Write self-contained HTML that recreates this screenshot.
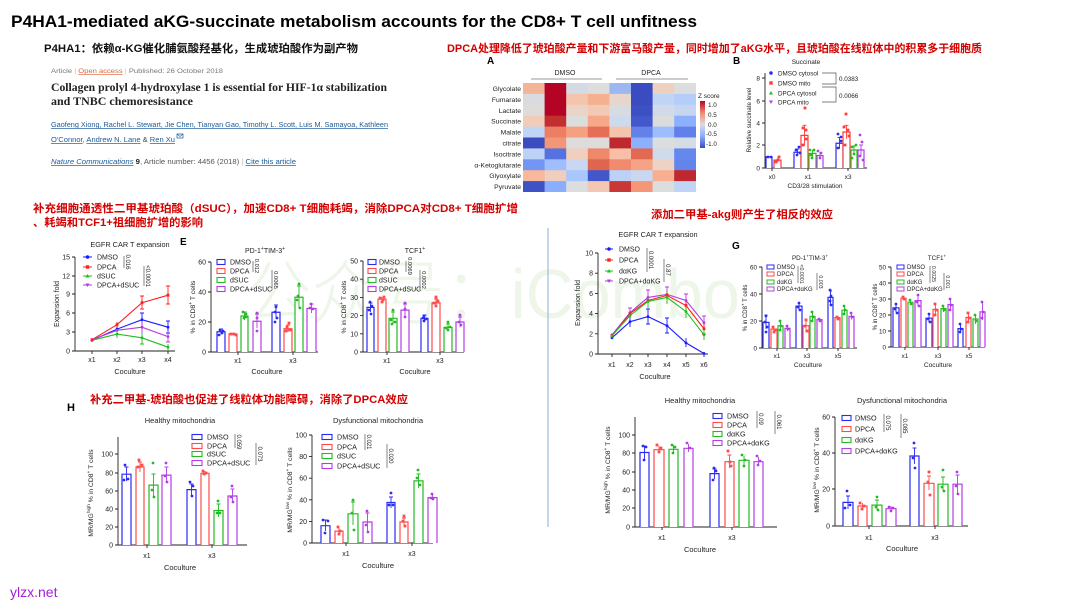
<!DOCTYPE html>
<html><head><meta charset="utf-8"><style>
html,body{margin:0;padding:0;background:#fff;}
svg{display:block;}
text{font-family:"Liberation Sans",Arial,sans-serif;fill:#222;}
.cn{font-family:"Liberation Sans","Noto Sans CJK SC",sans-serif;font-weight:bold;}
.red{fill:#d40000;}
.t7{font-size:7px;}
.t6{font-size:6px;}
.ax{fill:none;stroke:#222;stroke-width:0.9;}
.br{fill:none;stroke:#555;stroke-width:0.7;}
.bar{fill:#fff;stroke-width:1.2;}
.err{fill:none;stroke-width:0.9;}
.dot{fill:none;stroke-width:2.8;stroke-linecap:round;}
.sq{fill:none;stroke-width:2.8;stroke-linecap:square;}
</style></head><body>
<svg width="1080" height="608" viewBox="0 0 1080 608" xmlns="http://www.w3.org/2000/svg">
<defs>
<linearGradient id="zg" x1="0" y1="0" x2="0" y2="1">
<stop offset="0" stop-color="#b40426"/><stop offset="0.25" stop-color="#f08a6c"/><stop offset="0.5" stop-color="#dddcdc"/><stop offset="0.75" stop-color="#8badfd"/><stop offset="1" stop-color="#3b4cc0"/>
</linearGradient>
</defs>
<rect width="1080" height="608" fill="#fff"/>
<!-- watermark -->
<text x="245" y="318" font-size="70" textLength="495" lengthAdjust="spacingAndGlyphs" style="fill:#edf6e8;font-family:'Liberation Sans','Noto Sans CJK SC',sans-serif;font-weight:300">公众号：iCombo</text>

<!-- Title -->
<text x="11" y="27" font-size="17" font-weight="bold" textLength="686" lengthAdjust="spacingAndGlyphs" style="fill:#000">P4HA1-mediated aKG-succinate metabolism accounts for the CD8+ T cell unfitness</text>
<text class="cn" x="44" y="52" font-size="11" textLength="314" lengthAdjust="spacingAndGlyphs" style="fill:#111">P4HA1：依赖α-KG催化脯氨酸羟基化，生成琥珀酸作为副产物</text>

<!-- article snippet -->
<text x="51" y="73" font-size="6.5" textLength="172" lengthAdjust="spacingAndGlyphs" style="fill:#777">Article <tspan style="fill:#bbb">|</tspan> <tspan style="fill:#d9643a;text-decoration:underline">Open access</tspan> <tspan style="fill:#bbb">|</tspan> Published: 26 October 2018</text>
<text x="51" y="91" font-size="11.5" font-weight="bold" textLength="336" lengthAdjust="spacingAndGlyphs" style="fill:#222;font-family:'Liberation Serif',serif">Collagen prolyl 4-hydroxylase 1 is essential for HIF-1α stabilization</text>
<text x="51" y="105" font-size="11.5" font-weight="bold" textLength="142" lengthAdjust="spacingAndGlyphs" style="fill:#222;font-family:'Liberation Serif',serif">and TNBC chemoresistance</text>
<text x="51" y="127" font-size="7" textLength="337" lengthAdjust="spacingAndGlyphs" style="fill:#1b5b9a;text-decoration:underline">Gaofeng Xiong, Rachel L. Stewart, Jie Chen, Tianyan Gao, Timothy L. Scott, Luis M. Samayoa, Kathleen</text>
<text x="51" y="142" font-size="7" textLength="124" lengthAdjust="spacingAndGlyphs" style="fill:#1b5b9a"><tspan style="text-decoration:underline">O'Connor</tspan>, <tspan style="text-decoration:underline">Andrew N. Lane</tspan> <tspan style="fill:#444">&amp;</tspan> <tspan style="text-decoration:underline">Ren Xu</tspan></text>
<rect x="177" y="134" width="6" height="4" fill="none" stroke="#1b5b9a" stroke-width="0.7"/><path d="M177 134 L180 136.5 L183 134" fill="none" stroke="#1b5b9a" stroke-width="0.6"/>
<text x="51" y="164" font-size="7" textLength="245" lengthAdjust="spacingAndGlyphs" style="fill:#555"><tspan style="fill:#1b5b9a;font-style:italic;text-decoration:underline">Nature Communications</tspan> <tspan font-weight="bold" style="fill:#222">9</tspan>, Article number: 4456 (2018) <tspan style="fill:#bbb">|</tspan> <tspan style="fill:#1b5b9a;text-decoration:underline">Cite this article</tspan></text>

<!-- top right red -->
<text class="cn red" x="447" y="52" font-size="11" textLength="535" lengthAdjust="spacingAndGlyphs">DPCA处理降低了琥珀酸产量和下游富马酸产量，同时增加了aKG水平，且琥珀酸在线粒体中的积累多于细胞质</text>

<!-- Heatmap A -->
<text x="487" y="64" font-size="10" font-weight="bold" style="fill:#000">A</text>
<text class="t7" x="565" y="75" text-anchor="middle">DMSO</text>
<text class="t7" x="651" y="75" text-anchor="middle">DPCA</text>
<path d="M531 79H602M616 79H688" stroke="#999" stroke-width="0.9"/>
<g>
<rect x="523" y="83" width="22" height="11.3" fill="#f4b49a"/><rect x="544.6" y="83" width="22" height="11.3" fill="#b40426"/><rect x="566.2" y="83" width="22" height="11.3" fill="#d5dbe5"/><rect x="587.8" y="83" width="22" height="11.3" fill="#dcdddd"/><rect x="609.4" y="83" width="22" height="11.3" fill="#9db8f0"/><rect x="631" y="83" width="22" height="11.3" fill="#3b4cc0"/><rect x="652.6" y="83" width="22" height="11.3" fill="#eed0c0"/><rect x="674.2" y="83" width="21.8" height="11.3" fill="#dcdddd"/>
<rect x="523" y="93.9" width="22" height="11.3" fill="#d9dbe0"/><rect x="544.6" y="93.9" width="22" height="11.3" fill="#b40426"/><rect x="566.2" y="93.9" width="22" height="11.3" fill="#f5c4ac"/><rect x="587.8" y="93.9" width="22" height="11.3" fill="#f5b090"/><rect x="609.4" y="93.9" width="22" height="11.3" fill="#e8d6cc"/><rect x="631" y="93.9" width="22" height="11.3" fill="#3b4cc0"/><rect x="652.6" y="93.9" width="22" height="11.3" fill="#c0d4f5"/><rect x="674.2" y="93.9" width="21.8" height="11.3" fill="#b5cdfa"/>
<rect x="523" y="104.8" width="22" height="11.3" fill="#dedcdb"/><rect x="544.6" y="104.8" width="22" height="11.3" fill="#b40426"/><rect x="566.2" y="104.8" width="22" height="11.3" fill="#ead4c8"/><rect x="587.8" y="104.8" width="22" height="11.3" fill="#f2c9b4"/><rect x="609.4" y="104.8" width="22" height="11.3" fill="#d8dce2"/><rect x="631" y="104.8" width="22" height="11.3" fill="#3d50c3"/><rect x="652.6" y="104.8" width="22" height="11.3" fill="#d0dae8"/><rect x="674.2" y="104.8" width="21.8" height="11.3" fill="#c6d6f1"/>
<rect x="523" y="115.7" width="22" height="11.3" fill="#f1ccb8"/><rect x="544.6" y="115.7" width="22" height="11.3" fill="#c32e31"/><rect x="566.2" y="115.7" width="22" height="11.3" fill="#dcdddd"/><rect x="587.8" y="115.7" width="22" height="11.3" fill="#f7a889"/><rect x="609.4" y="115.7" width="22" height="11.3" fill="#cdd9ec"/><rect x="631" y="115.7" width="22" height="11.3" fill="#4358cb"/><rect x="652.6" y="115.7" width="22" height="11.3" fill="#dddcdc"/><rect x="674.2" y="115.7" width="21.8" height="11.3" fill="#8db0fe"/>
<rect x="523" y="126.6" width="22" height="11.3" fill="#c0d4f5"/><rect x="544.6" y="126.6" width="22" height="11.3" fill="#ec7f63"/><rect x="566.2" y="126.6" width="22" height="11.3" fill="#f5a081"/><rect x="587.8" y="126.6" width="22" height="11.3" fill="#e46e56"/><rect x="609.4" y="126.6" width="22" height="11.3" fill="#f4c5ad"/><rect x="631" y="126.6" width="22" height="11.3" fill="#6282ea"/><rect x="652.6" y="126.6" width="22" height="11.3" fill="#9dbdff"/><rect x="674.2" y="126.6" width="21.8" height="11.3" fill="#6180e9"/>
<rect x="523" y="137.5" width="22" height="11.3" fill="#3b4cc0"/><rect x="544.6" y="137.5" width="22" height="11.3" fill="#f39577"/><rect x="566.2" y="137.5" width="22" height="11.3" fill="#dddcdc"/><rect x="587.8" y="137.5" width="22" height="11.3" fill="#dedcdb"/><rect x="609.4" y="137.5" width="22" height="11.3" fill="#c0282f"/><rect x="631" y="137.5" width="22" height="11.3" fill="#8caffe"/><rect x="652.6" y="137.5" width="22" height="11.3" fill="#dcdddd"/><rect x="674.2" y="137.5" width="21.8" height="11.3" fill="#d6dce4"/>
<rect x="523" y="148.4" width="22" height="11.3" fill="#bcd2f7"/><rect x="544.6" y="148.4" width="22" height="11.3" fill="#5572df"/><rect x="566.2" y="148.4" width="22" height="11.3" fill="#efcfbf"/><rect x="587.8" y="148.4" width="22" height="11.3" fill="#ef886b"/><rect x="609.4" y="148.4" width="22" height="11.3" fill="#f6bfa6"/><rect x="631" y="148.4" width="22" height="11.3" fill="#e26952"/><rect x="652.6" y="148.4" width="22" height="11.3" fill="#cfdaea"/><rect x="674.2" y="148.4" width="21.8" height="11.3" fill="#6687ed"/>
<rect x="523" y="159.3" width="22" height="11.3" fill="#7396f5"/><rect x="544.6" y="159.3" width="22" height="11.3" fill="#9ebeff"/><rect x="566.2" y="159.3" width="22" height="11.3" fill="#c9d7f0"/><rect x="587.8" y="159.3" width="22" height="11.3" fill="#e0654f"/><rect x="609.4" y="159.3" width="22" height="11.3" fill="#f08b6e"/><rect x="631" y="159.3" width="22" height="11.3" fill="#f6a385"/><rect x="652.6" y="159.3" width="22" height="11.3" fill="#ecd3c5"/><rect x="674.2" y="159.3" width="21.8" height="11.3" fill="#6384eb"/>
<rect x="523" y="170.2" width="22" height="11.3" fill="#f7b89c"/><rect x="544.6" y="170.2" width="22" height="11.3" fill="#efcebd"/><rect x="566.2" y="170.2" width="22" height="11.3" fill="#aac7fd"/><rect x="587.8" y="170.2" width="22" height="11.3" fill="#4257c9"/><rect x="609.4" y="170.2" width="22" height="11.3" fill="#bbd1f8"/><rect x="631" y="170.2" width="22" height="11.3" fill="#cad8ef"/><rect x="652.6" y="170.2" width="22" height="11.3" fill="#f7af91"/><rect x="674.2" y="170.2" width="21.8" height="11.3" fill="#c0282f"/>
<rect x="523" y="181.1" width="22" height="10.9" fill="#3e51c5"/><rect x="544.6" y="181.1" width="22" height="10.9" fill="#8badfd"/><rect x="566.2" y="181.1" width="22" height="10.9" fill="#dcdddd"/><rect x="587.8" y="181.1" width="22" height="10.9" fill="#f3c7b1"/><rect x="609.4" y="181.1" width="22" height="10.9" fill="#c83836"/><rect x="631" y="181.1" width="22" height="10.9" fill="#f39778"/><rect x="652.6" y="181.1" width="22" height="10.9" fill="#dcdddd"/><rect x="674.2" y="181.1" width="21.8" height="10.9" fill="#c0d4f5"/>
</g>
<g class="t7" text-anchor="end" style="font-size:6.8px">
<text x="521" y="91">Glycolate</text><text x="521" y="101.9">Fumarate</text><text x="521" y="112.8">Lactate</text><text x="521" y="123.7">Succinate</text><text x="521" y="134.6">Malate</text><text x="521" y="145.5">citrate</text><text x="521" y="156.4">Isocitrate</text><text x="521" y="167.3">α-Ketoglutarate</text><text x="521" y="178.2">Glyoxylate</text><text x="521" y="189.1">Pyruvate</text>
</g>
<text x="698" y="98" font-size="6.5">Z score</text>
<rect x="700" y="101" width="5" height="47" fill="url(#zg)"/>
<g font-size="6.3"><text x="708" y="107">1.0</text><text x="708" y="117">0.5</text><text x="708" y="127">0.0</text><text x="706" y="136">-0.5</text><text x="706" y="146">-1.0</text></g>

<!-- Panel B succinate -->
<text x="733" y="64" font-size="10" font-weight="bold" style="fill:#000">B</text>
<text x="806" y="64" font-size="6.5" text-anchor="middle">Succinate</text>
<path class="ax" d="M765 73V168H867M762 78H765M762 101H765M762 123H765M762 145H765M762 168H765M772 168v3M808 168v3M848 168v3"/>
<g font-size="6.5" text-anchor="end"><text x="760" y="80.5">8</text><text x="760" y="103.5">6</text><text x="760" y="125.5">4</text><text x="760" y="147.5">2</text><text x="760" y="170.5">0</text></g>
<g font-size="6.5" text-anchor="middle"><text x="772" y="179">x0</text><text x="808" y="179">x1</text><text x="848" y="179">x3</text><text x="815" y="188">CD3/28 stimulation</text></g>
<text transform="translate(751,120) rotate(-90)" font-size="6.2" text-anchor="middle">Relative succinate level</text>
<path class="bar" stroke="#2a2af5" d="M766 168V156.75H772V168M794 168V152.25H801V168M836 168V143.25H843V168"/>
<path class="bar" stroke="#ff3b3b" d="M774 168V160.1H781V168M801 168V135.4H808V168M843 168V132H850V168"/>
<path class="bar" stroke="#22bb22" d="M809 168V153.4H816V168M851 168V150H857V168"/>
<path class="bar" stroke="#b43ce6" d="M817 168V155.6H823V168M858 168V150H864V168"/>
<path class="err" stroke="#2a2af5" d="M797.5 149V155.6M795.5 149H799.5M839.5 137.6V148.9M837.5 137.6H841.5"/>
<path class="err" stroke="#ff3b3b" d="M777.5 158.4V161.8M804.5 125.3V145.5M802.5 125.3H806.5M846.5 125.3V138.7M844.5 125.3H848.5"/>
<path class="err" stroke="#22bb22" d="M854 146V154M852 146H856M812.5 150V157"/>
<path class="err" stroke="#b43ce6" d="M820 152V159M861 145V155M859 145H863"/>
<path class="dot" stroke="#2a2af5" d="M768 157h0M771 157h0M796 150h0M799 147h0M797 155h0M800 153h0M838 134h0M841 137h0M838 148h0M841 141h0"/>
<path class="sq" stroke="#ff3b3b" d="M776 162h0M779 157h0M778 160h0M805 108h0M803 128h0M806 139h0M803 145h0M806 130h0M846 114h0M844 127h0M848 130h0M845 145h0M849 136h0"/>
<path class="dot" stroke="#22bb22" d="M810 150h0M814 150h0M812 158h0M811 155h0M852 147h0M856 145h0M854 154h0M852 158h0"/>
<path class="dot" stroke="#b43ce6" d="M818 151h0M821 153h0M820 158h0M860 135h0M862 142h0M860 156h0M863 160h0"/>
<circle cx="771" cy="73" r="1.8" fill="#2a2af5"/><rect x="769.3" y="81.3" width="3.4" height="3.4" fill="#ff3b3b"/><path d="M771 91L773 94.5H769Z" fill="#22bb22"/><path d="M769 100.5H773L771 104Z" fill="#b43ce6"/>
<g font-size="6.3"><text x="778" y="75.5">DMSO cytosol</text><text x="778" y="85.5">DMSO mito</text><text x="778" y="95.5">DPCA cytosol</text><text x="778" y="104.5">DPCA mito</text></g>
<path class="br" d="M822 73H836V84H822M822 87H836V102H822"/>
<g font-size="6.3"><text x="839" y="81">0.0383</text><text x="839" y="98">0.0066</text></g>

<!-- Left middle red text -->
<text class="cn red" x="33" y="212" font-size="11" textLength="485" lengthAdjust="spacingAndGlyphs">补充细胞通透性二甲基琥珀酸（dSUC），加速CD8+ T细胞耗竭，消除DPCA对CD8+ T细胞扩增</text>
<text class="cn red" x="33" y="226" font-size="11" textLength="170" lengthAdjust="spacingAndGlyphs">、耗竭和TCF1+祖细胞扩增的影响</text>

<!-- EGFR left -->
<text x="130" y="247" font-size="7.3" text-anchor="middle">EGFR CAR T expansion</text>
<path class="ax" d="M75 257V351H175M72 257H75M72 276H75M72 294H75M72 313H75M72 332H75M72 351H75M92 351v3M117 351v3M142 351v3M168 351v3"/>
<g font-size="7" text-anchor="end"><text x="70" y="259.5">15</text><text x="70" y="278.5">12</text><text x="70" y="296.5">9</text><text x="70" y="315.5">6</text><text x="70" y="334.5">3</text><text x="70" y="353.5">0</text></g>
<g font-size="7" text-anchor="middle"><text x="92" y="362">x1</text><text x="117" y="362">x2</text><text x="142" y="362">x3</text><text x="168" y="362">x4</text><text x="130" y="374" font-size="7.3">Coculture</text></g>
<text transform="translate(59,304) rotate(-90)" font-size="7" text-anchor="middle">Expansion fold</text>
<g fill="none" stroke-width="1.1">
<polyline stroke="#1a1aff" points="92,340.3 117,329.1 142,319.7 168,327.2"/>
<polyline stroke="#ff2020" points="92,339.7 117,324.7 142,302.7 168,295.2"/>
<polyline stroke="#1fbf1f" points="92,340.3 117,334.1 142,337.8 168,347.2"/>
<polyline stroke="#b33be0" points="92,339.7 117,330.3 142,327.2 168,336.6"/>
</g>
<path class="err" stroke="#1a1aff" d="M142 313V327M140 313H144M168 321V333M166 321H170M166 333H170M117 326V332"/>
<path class="err" stroke="#ff2020" d="M117 322V327M142 296V309M140 296H144M140 309H144M168 286V304M166 286H170M166 304H170"/>
<path class="err" stroke="#1fbf1f" d="M117 330V338M115 330H119M142 332V344M140 344H144M168 344V350"/>
<path class="err" stroke="#b33be0" d="M142 321V333M168 331V342M166 342H170"/>
<path class="dot" stroke="#1a1aff" stroke-width="4" d="M92 340.3h0M117 329.1h0M142 319.7h0M168 327.2h0"/>
<path class="sq" stroke="#ff2020" stroke-width="3.5" d="M92 339.7h0M117 324.7h0M142 302.7h0M168 295.2h0"/>
<path class="dot" stroke="#1fbf1f" stroke-width="3.6" d="M117 334.1h0M142 337.8h0M168 347.2h0"/>
<path class="dot" stroke="#b33be0" stroke-width="3.6" d="M117 330.3h0M142 327.2h0M168 336.6h0"/>
<path d="M83 257H92M83 267H92M83 276H92M83 285H92" stroke-width="1" stroke="#1a1aff"/>
<path d="M83 267H92" stroke="#ff2020"/><path d="M83 276H92" stroke="#1fbf1f"/><path d="M83 285H92" stroke="#b33be0"/>
<circle cx="87.5" cy="257" r="1.8" fill="#1a1aff"/><rect x="85.8" y="265.3" width="3.4" height="3.4" fill="#ff2020"/><path d="M87.5 274L89.5 277.5H85.5Z" fill="#1fbf1f"/><path d="M85.5 283.5H89.5L87.5 287Z" fill="#b33be0"/>
<g font-size="7"><text x="97" y="259.5">DMSO</text><text x="97" y="269.5">DPCA</text><text x="97" y="278.5">dSUC</text><text x="97" y="287.5">DPCA+dSUC</text></g>
<path class="br" d="M124 256V268M144 266V286"/>
<text transform="translate(126,262) rotate(90)" font-size="6" text-anchor="middle">0.016</text>
<text transform="translate(146,276) rotate(90)" font-size="6" text-anchor="middle">&lt;0.0001</text>

<!-- E -->
<text x="180" y="245" font-size="10" font-weight="bold" style="fill:#000">E</text>
<text x="265" y="253" font-size="7" text-anchor="middle">PD-1<tspan font-size="5" dy="-3">+</tspan><tspan dy="3">TIM-3</tspan><tspan font-size="5" dy="-3">+</tspan></text>
<path class="ax" d="M211 262V352H318M208 262H211M208 292H211M208 322H211M208 352H211M238 352v3M293 352v3"/>
<g font-size="7" text-anchor="end"><text x="206" y="264.5">60</text><text x="206" y="294.5">40</text><text x="206" y="324.5">20</text><text x="206" y="354.5">0</text></g>
<g font-size="7" text-anchor="middle"><text x="238" y="363">x1</text><text x="293" y="363">x3</text><text x="267" y="374" font-size="7.3">Coculture</text></g>
<text transform="translate(195,307) rotate(-90)" font-size="6.8" text-anchor="middle">% in CD8<tspan font-size="5" dy="-3">+</tspan><tspan dy="3"> T cells</tspan></text>
<path class="bar" stroke="#2a2af5" d="M217 352V331.75H225V352M272 352V312.25H280V352"/>
<path class="bar" stroke="#ff4a4a" d="M229 352V334H237V352M284 352V328.75H292V352"/>
<path class="bar" stroke="#22bb22" d="M241 352V316H248V352M295 352V297.25H303V352"/>
<path class="bar" stroke="#b43ce6" d="M253 352V321.25H261V352M307 352V308.5H316V352"/>
<path class="err" stroke="#2a2af5" d="M221 329V334.5M219 329H223M276 305V319M274 305H278"/>
<path class="err" stroke="#ff4a4a" d="M233 333V335M288 325V332M286 325H290"/>
<path class="err" stroke="#22bb22" d="M244.5 312V320M242.5 312H246.5M299 286V308M297 286H301"/>
<path class="err" stroke="#b43ce6" d="M257 314V328M255 314H259M311.5 304V313M309.5 304H313.5"/>
<path class="dot" stroke="#2a2af5" d="M220 330h0M222 333h0M219 335h0M223 331h0M276 307h0M275 312h0M277 318h0M275 322h0"/>
<path class="sq" stroke="#ff4a4a" d="M231 334h0M234 334h0M236 335h0M287 327h0M289 323h0M286 331h0M290 330h0"/>
<path class="dot" stroke="#22bb22" d="M243 312h0M246 314h0M244 318h0M246 317h0M299 284h0M298 296h0M300 308h0M297 300h0"/>
<path class="dot" stroke="#b43ce6" d="M257 313h0M257 318h0M257 331h0M311 304h0M310 308h0M313 309h0"/>
<rect x="217" y="259.5" width="8" height="5" fill="none" stroke="#2a2af5" stroke-width="1.1"/><rect x="217" y="268.5" width="8" height="5" fill="none" stroke="#ff4a4a" stroke-width="1.1"/><rect x="217" y="277.5" width="8" height="5" fill="none" stroke="#22bb22" stroke-width="1.1"/><rect x="217" y="286.5" width="8" height="5" fill="none" stroke="#b43ce6" stroke-width="1.1"/>
<g font-size="7"><text x="230" y="264.5">DMSO</text><text x="230" y="273.5">DPCA</text><text x="230" y="282.5">dSUC</text><text x="230" y="291.5">DPCA+dSUC</text></g>
<path class="br" d="M253 261V272M272 270V290"/>
<text transform="translate(255,266) rotate(90)" font-size="5.8" text-anchor="middle">0.012</text>
<text transform="translate(274,280) rotate(90)" font-size="5.8" text-anchor="middle">0.0065</text>

<!-- TCF1 E right -->
<text x="415" y="253" font-size="7" text-anchor="middle">TCF1<tspan font-size="5" dy="-3">+</tspan></text>
<path class="ax" d="M363 261V352H464M360 261H363M360 279.2H363M360 297.4H363M360 315.6H363M360 333.8H363M360 352H363M387 352v3M440 352v3"/>
<g font-size="7" text-anchor="end"><text x="358" y="263.5">50</text><text x="358" y="281.7">40</text><text x="358" y="299.9">30</text><text x="358" y="318.1">20</text><text x="358" y="336.3">10</text><text x="358" y="354.5">0</text></g>
<g font-size="7" text-anchor="middle"><text x="387" y="363">x1</text><text x="440" y="363">x3</text><text x="415" y="374" font-size="7.3">Coculture</text></g>
<text transform="translate(346,307) rotate(-90)" font-size="6.8" text-anchor="middle">% in CD8<tspan font-size="5" dy="-3">+</tspan><tspan dy="3"> T cells</tspan></text>
<path class="bar" stroke="#2a2af5" d="M367 352V307.4H374V352M421 352V318.3H428V352"/>
<path class="bar" stroke="#ff4a4a" d="M378 352V299.2H386V352M432 352V302.9H440V352"/>
<path class="bar" stroke="#22bb22" d="M389 352V318.3H397V352M444 352V327.4H452V352"/>
<path class="bar" stroke="#b43ce6" d="M401 352V310.1H409V352M456 352V322H464V352"/>
<path class="err" stroke="#2a2af5" d="M370.5 303V312M368.5 303H372.5M424.5 315V321.6M422.5 315H426.5"/>
<path class="err" stroke="#ff4a4a" d="M382 297V301.5M436 299V306M434 299H438"/>
<path class="err" stroke="#22bb22" d="M393 312V324M391 312H395M448 324V331M446 324H450"/>
<path class="err" stroke="#b43ce6" d="M405 304V316M403 304H407M460 317V327M458 317H462"/>
<path class="dot" stroke="#2a2af5" d="M370 302h0M372 306h0M369 310h0M371 314h0M424 316h0M423 318h0M426 319h0M424 321h0"/>
<path class="sq" stroke="#ff4a4a" d="M380 298h0M383 300h0M382 302h0M384 297h0M436 297h0M434 303h0M438 301h0M436 306h0"/>
<path class="dot" stroke="#22bb22" d="M393 310h0M391 320h0M395 322h0M392 324h0M448 322h0M446 328h0M450 327h0M448 330h0"/>
<path class="dot" stroke="#b43ce6" d="M405 303h0M405 309h0M405 317h0M460 315h0M459 322h0M461 325h0"/>
<rect x="368" y="259.5" width="8" height="5" fill="none" stroke="#2a2af5" stroke-width="1.1"/><rect x="368" y="268.5" width="8" height="5" fill="none" stroke="#ff4a4a" stroke-width="1.1"/><rect x="368" y="277.5" width="8" height="5" fill="none" stroke="#22bb22" stroke-width="1.1"/><rect x="368" y="286.5" width="8" height="5" fill="none" stroke="#b43ce6" stroke-width="1.1"/>
<g font-size="7"><text x="379" y="264.5">DMSO</text><text x="379" y="273.5">DPCA</text><text x="379" y="282.5">dSUC</text><text x="379" y="291.5">DPCA+dSUC</text></g>
<path class="br" d="M406 261V272M420 270V290"/>
<text transform="translate(408,266) rotate(90)" font-size="5.8" text-anchor="middle">0.0069</text>
<text transform="translate(422,280) rotate(90)" font-size="5.8" text-anchor="middle">0.0002</text>

<!-- divider -->
<path d="M548 228V527" stroke="#8faadc" stroke-width="1"/>

<!-- right middle -->
<text class="cn red" x="651" y="218" font-size="11" textLength="182" lengthAdjust="spacingAndGlyphs">添加二甲基-akg则产生了相反的效应</text>
<text x="658" y="237" font-size="7.3" text-anchor="middle">EGFR CAR T expansion</text>
<path class="ax" d="M598 253V354H708M595 253H598M595 273.2H598M595 293.4H598M595 313.6H598M595 333.8H598M595 354H598M612 354v3M630 354v3M648 354v3M667 354v3M686 354v3M704 354v3"/>
<g font-size="7" text-anchor="end"><text x="593" y="255.5">10</text><text x="593" y="275.7">8</text><text x="593" y="295.9">6</text><text x="593" y="316.1">4</text><text x="593" y="336.3">2</text><text x="593" y="356.5">0</text></g>
<g font-size="7" text-anchor="middle"><text x="612" y="367">x1</text><text x="630" y="367">x2</text><text x="648" y="367">x3</text><text x="667" y="367">x4</text><text x="686" y="367">x5</text><text x="704" y="367">x6</text><text x="655" y="379" font-size="7.3">Coculture</text></g>
<text transform="translate(580,303) rotate(-90)" font-size="7" text-anchor="middle">Expansion fold</text>
<g fill="none" stroke-width="1.1">
<polyline stroke="#1a1aff" points="612,337.8 630,321.7 648,316.6 667,325.7 686,342.9 704,353.5"/>
<polyline stroke="#b33be0" points="612,334.8 630,312.6 648,297.4 667,294.4 686,300.5 704,322.7"/>
<polyline stroke="#ff2020" points="612,335.8 630,313.6 648,300.5 667,295.4 686,305.5 704,328.75"/>
<polyline stroke="#1fbf1f" points="612,335.8 630,315.6 648,301.5 667,297.4 686,311.6 704,334.8"/>
</g>
<path class="err" stroke="#1a1aff" d="M630 317V327M648 309V324M646 309H650M646 324H650M667 318V333M665 318H669M665 333H669M686 338V347M704 352V355"/>
<path class="err" stroke="#b33be0" d="M630 308V317M628 308H632M648 290V304M646 290H650M667 287V302M665 287H669M686 294V307M684 294H688M704 316V329M702 316H706"/>
<path class="err" stroke="#ff2020" d="M667 291V303M686 300V311M704 323V334M702 334H706"/>
<path class="err" stroke="#1fbf1f" d="M648 296V308M667 292V304M686 306V318M704 329V340"/>
<path class="dot" stroke="#1a1aff" stroke-width="4" d="M612 337.8h0M630 321.7h0M648 316.6h0M667 325.7h0M686 342.9h0M704 353.5h0"/>
<path class="dot" stroke="#b33be0" stroke-width="3.6" d="M612 334.8h0M630 312.6h0M648 297.4h0M667 294.4h0M686 300.5h0M704 322.7h0"/>
<path class="sq" stroke="#ff2020" stroke-width="3.4" d="M612 335.8h0M630 313.6h0M648 300.5h0M667 295.4h0M686 305.5h0M704 328.75h0"/>
<path class="dot" stroke="#1fbf1f" stroke-width="3.6" d="M612 336h0M630 315.6h0M648 301.5h0M667 297.4h0M686 311.6h0M704 334.8h0"/>
<path d="M605 249H613" stroke="#1a1aff"/><path d="M605 260H613" stroke="#ff2020"/><path d="M605 271H613" stroke="#1fbf1f"/><path d="M605 281H613" stroke="#b33be0"/>
<circle cx="609" cy="249" r="1.8" fill="#1a1aff"/><rect x="607.3" y="258.3" width="3.4" height="3.4" fill="#ff2020"/><path d="M609 269L611 272.5H607Z" fill="#1fbf1f"/><path d="M607 279.5H611L609 283Z" fill="#b33be0"/>
<g font-size="7"><text x="619" y="251.5">DMSO</text><text x="619" y="262.5">DPCA</text><text x="619" y="273.5">dαKG</text><text x="619" y="283.5">DPCA+dαKG</text></g>
<path class="br" d="M647 248V272M664 259V282"/>
<text transform="translate(649,260) rotate(90)" font-size="6" text-anchor="middle">0.0001</text>
<text transform="translate(666,270) rotate(90)" font-size="6" text-anchor="middle">0.87</text>

<!-- G -->
<text x="732" y="249" font-size="10" font-weight="bold" style="fill:#000">G</text>
<text x="810" y="260" font-size="6.3" text-anchor="middle">PD-1<tspan font-size="4.5" dy="-2.5">+</tspan><tspan dy="2.5">TIM-3</tspan><tspan font-size="4.5" dy="-2.5">+</tspan></text>
<path class="ax" d="M762 267V348H857M759 267H762M759 294H762M759 321H762M759 348H762M777 348v3M807 348v3M838 348v3"/>
<g font-size="6.3" text-anchor="end"><text x="757" y="269.5">60</text><text x="757" y="296.5">40</text><text x="757" y="323.5">20</text><text x="757" y="350.5">0</text></g>
<g font-size="6.3" text-anchor="middle"><text x="777" y="358">x1</text><text x="807" y="358">x3</text><text x="838" y="358">x5</text><text x="808" y="367" font-size="6.6">Coculture</text></g>
<text transform="translate(747,308) rotate(-90)" font-size="6" text-anchor="middle">% in CD8<tspan font-size="4.5" dy="-2.5">+</tspan><tspan dy="2.5"> T cells</tspan></text>
<path class="bar" stroke="#2a2af5" d="M763 348V322.35H769V348M796 348V306.15H802V348M828 348V297.4H833V348"/>
<path class="bar" stroke="#ff4a4a" d="M771 348V329.1H777V348M803 348V325.7H809V348M835 348V317.6H840V348"/>
<path class="bar" stroke="#22bb22" d="M778 348V325.7H783V348M810 348V316.3H815V348M842 348V310.2H847V348"/>
<path class="bar" stroke="#b43ce6" d="M785 348V328.4H790V348M817 348V319.65H822V348M849 348V316.3H854V348"/>
<path class="err" stroke="#2a2af5" d="M766 315V329M764.5 315H767.5M799 302V310M830.5 291V304M829 291H832"/>
<path class="err" stroke="#ff4a4a" d="M774 327V331M806 319V332M804.5 319H807.5M837.5 316V319"/>
<path class="err" stroke="#22bb22" d="M780.5 322V329.5M812.5 312V320.5M844.5 306V314"/>
<path class="err" stroke="#b43ce6" d="M787.5 326V331M819.5 318V321.5M851.5 313V319.5"/>
<path class="dot" stroke="#2a2af5" stroke-width="2.4" d="M766 316h0M765 322h0M767 327h0M766 332h0M799 303h0M798 307h0M800 310h0M830 290h0M831 296h0M830 301h0M831 305h0"/>
<path class="sq" stroke="#ff4a4a" stroke-width="2.2" d="M773 327h0M775 330h0M774 332h0M806 320h0M805 326h0M807 331h0M837 317h0M838 319h0"/>
<path class="dot" stroke="#22bb22" stroke-width="2.4" d="M780 321h0M781 326h0M780 330h0M812 312h0M813 317h0M812 321h0M844 306h0M845 310h0M844 314h0"/>
<path class="dot" stroke="#b43ce6" stroke-width="2.4" d="M787 326h0M788 329h0M819 319h0M820 321h0M851 313h0M852 317h0"/>
<rect x="767" y="265" width="7" height="4" fill="none" stroke="#2a2af5"/><rect x="767" y="272" width="7" height="4" fill="none" stroke="#ff4a4a"/><rect x="767" y="280" width="7" height="4" fill="none" stroke="#22bb22"/><rect x="767" y="287" width="7" height="4" fill="none" stroke="#b43ce6"/>
<g font-size="6"><text x="777" y="269">DMSO</text><text x="777" y="276">DPCA</text><text x="777" y="284">dαKG</text><text x="777" y="291">DPCA+dαKG</text></g>
<path class="br" d="M798 266V283M817 273V290"/>
<text transform="translate(800,274) rotate(90)" font-size="5.3" text-anchor="middle">&lt;0.0001</text>
<text transform="translate(819,282) rotate(90)" font-size="5.3" text-anchor="middle">0.003</text>

<text x="937" y="260" font-size="6.3" text-anchor="middle">TCF1<tspan font-size="4.5" dy="-2.5">+</tspan></text>
<path class="ax" d="M891 267V347H985M888 267H891M888 283H891M888 299H891M888 315H891M888 331H891M888 347H891M905 347v3M938 347v3M969 347v3"/>
<g font-size="6.3" text-anchor="end"><text x="886" y="269.5">50</text><text x="886" y="285.5">40</text><text x="886" y="301.5">30</text><text x="886" y="317.5">20</text><text x="886" y="333.5">10</text><text x="886" y="349.5">0</text></g>
<g font-size="6.3" text-anchor="middle"><text x="905" y="358">x1</text><text x="938" y="358">x3</text><text x="969" y="358">x5</text><text x="938" y="367" font-size="6.6">Coculture</text></g>
<text transform="translate(877,307) rotate(-90)" font-size="6" text-anchor="middle">% in CD8<tspan font-size="4.5" dy="-2.5">+</tspan><tspan dy="2.5"> T cells</tspan></text>
<path class="bar" stroke="#2a2af5" d="M893 347V307.8H899V347M926 347V318.2H932V347M958 347V328.6H963V347"/>
<path class="bar" stroke="#ff4a4a" d="M901 347V298.2H906V347M933 347V309.4H938V347M966 347V317.4H971V347"/>
<path class="bar" stroke="#22bb22" d="M908 347V302.2H913V347M941 347V308.6H946V347M973 347V319H978V347"/>
<path class="bar" stroke="#b43ce6" d="M915 347V300.6H921V347M948 347V304.6H953V347M980 347V311.8H985V347"/>
<path class="err" stroke="#2a2af5" d="M896 304V312M929 314V322M960.5 325V332"/>
<path class="err" stroke="#ff4a4a" d="M903.5 296.5V300M935.5 303V316M968.5 312V323"/>
<path class="err" stroke="#22bb22" d="M910.5 299V305M943.5 305V312M975.5 314V324"/>
<path class="err" stroke="#b43ce6" d="M918 295V306M950.5 298V311M982.5 303V320"/>
<path class="dot" stroke="#2a2af5" stroke-width="2.4" d="M896 304h0M895 309h0M897 313h0M929 314h0M928 319h0M930 322h0M960 324h0M961 329h0M960 332h0"/>
<path class="sq" stroke="#ff4a4a" stroke-width="2.2" d="M903 297h0M904 299h0M935 304h0M936 310h0M935 315h0M968 313h0M969 318h0M968 322h0"/>
<path class="dot" stroke="#22bb22" stroke-width="2.4" d="M910 300h0M911 304h0M943 306h0M944 310h0M975 315h0M976 321h0"/>
<path class="dot" stroke="#b43ce6" stroke-width="2.4" d="M918 295h0M917 302h0M919 306h0M950 299h0M951 305h0M950 310h0M982 302h0M983 312h0M982 318h0"/>
<rect x="897" y="265" width="7" height="4" fill="none" stroke="#2a2af5"/><rect x="897" y="272" width="7" height="4" fill="none" stroke="#ff4a4a"/><rect x="897" y="280" width="7" height="4" fill="none" stroke="#22bb22"/><rect x="897" y="287" width="7" height="4" fill="none" stroke="#b43ce6"/>
<g font-size="6"><text x="907" y="269">DMSO</text><text x="907" y="276">DPCA</text><text x="907" y="284">dαKG</text><text x="907" y="291">DPCA+dαKG</text></g>
<path class="br" d="M930 266V283M944 273V290"/>
<text transform="translate(932,274) rotate(90)" font-size="5.3" text-anchor="middle">0.0025</text>
<text transform="translate(946,282) rotate(90)" font-size="5.3" text-anchor="middle">0.001</text>

<!-- bottom left -->
<text class="cn red" x="90" y="403" font-size="11" textLength="318" lengthAdjust="spacingAndGlyphs">补充二甲基-琥珀酸也促进了线粒体功能障碍，消除了DPCA效应</text>
<text x="67" y="411" font-size="11" font-weight="bold" style="fill:#000">H</text>
<text x="180" y="423" font-size="7.5" text-anchor="middle">Healthy mitochondria</text>
<path class="ax" d="M118 437V545H247M115 454H118M115 473H118M115 491H118M115 509H118M115 527H118M115 545H118M147 545v3M212 545v3"/>
<g font-size="7" text-anchor="end"><text x="113" y="456.5">100</text><text x="113" y="475.5">80</text><text x="113" y="493.5">60</text><text x="113" y="511.5">40</text><text x="113" y="529.5">20</text><text x="113" y="547.5">0</text></g>
<g font-size="7" text-anchor="middle"><text x="147" y="558">x1</text><text x="212" y="558">x3</text><text x="180" y="570" font-size="7.5">Coculture</text></g>
<text transform="translate(93,493) rotate(-90)" font-size="6.8" text-anchor="middle">MR/MG<tspan font-size="4.8" dy="-3">high</tspan><tspan dy="3"> % in CD8</tspan><tspan font-size="4.8" dy="-3">+</tspan><tspan dy="3"> T cells</tspan></text>
<path class="bar" stroke="#2a2af5" d="M122 545V474.2H131V545M187 545V489.6H196V545"/>
<path class="bar" stroke="#ff4a4a" d="M136 545V467H144V545M201 545V473.3H209V545"/>
<path class="bar" stroke="#22bb22" d="M149 545V485.1H158V545M214 545V510.5H223V545"/>
<path class="bar" stroke="#b43ce6" d="M162 545V475.1H171V545M228 545V496H237V545"/>
<path class="err" stroke="#2a2af5" d="M126.5 467V481M124.5 467H128.5M191.5 484V496M189.5 484H193.5"/>
<path class="err" stroke="#ff4a4a" d="M140 462V472M138 462H142M205 471V475"/>
<path class="err" stroke="#22bb22" d="M153.5 474V496M151.5 474H155.5M218.5 504V517M216.5 504H220.5"/>
<path class="err" stroke="#b43ce6" d="M166.5 467V483M164.5 467H168.5M232.5 489V503M230.5 489H234.5"/>
<path class="dot" stroke="#2a2af5" d="M125 465h0M124 480h0M128 479h0M190 482h0M193 486h0M192 496h0"/>
<path class="sq" stroke="#ff4a4a" d="M139 460h0M142 465h0M138 467h0M203 471h0M206 473h0M204 474h0"/>
<path class="dot" stroke="#22bb22" d="M153 463h0M152 490h0M154 497h0M218 501h0M217 513h0M220 513h0"/>
<path class="dot" stroke="#b43ce6" d="M166 463h0M165 476h0M167 482h0M232 486h0M231 497h0M233 502h0"/>
<rect x="192" y="434.5" width="10" height="5" fill="none" stroke="#2a2af5" stroke-width="1.1"/><rect x="192" y="443.5" width="10" height="5" fill="none" stroke="#ff4a4a" stroke-width="1.1"/><rect x="192" y="451.5" width="10" height="5" fill="none" stroke="#22bb22" stroke-width="1.1"/><rect x="192" y="460.5" width="10" height="5" fill="none" stroke="#b43ce6" stroke-width="1.1"/>
<g font-size="7.2"><text x="207" y="439.5">DMSO</text><text x="207" y="448.5">DPCA</text><text x="207" y="456.5">dSUC</text><text x="207" y="465.5">DPCA+dSUC</text></g>
<path class="br" d="M235 434V448M256 443V465"/>
<text transform="translate(237,442) rotate(90)" font-size="6" text-anchor="middle">0.059</text>
<text transform="translate(258,454) rotate(90)" font-size="6" text-anchor="middle">0.073</text>

<text x="378" y="423" font-size="7.5" text-anchor="middle">Dysfunctional mitochondria</text>
<path class="ax" d="M312 435V543H433M309 435H312M309 456.6H312M309 478.2H312M309 499.8H312M309 521.4H312M309 543H312M346 543v3M412 543v3"/>
<g font-size="7" text-anchor="end"><text x="307" y="437.5">100</text><text x="307" y="459.1">80</text><text x="307" y="480.7">60</text><text x="307" y="502.3">40</text><text x="307" y="523.9">20</text><text x="307" y="545.5">0</text></g>
<g font-size="7" text-anchor="middle"><text x="346" y="556">x1</text><text x="412" y="556">x3</text><text x="378" y="568" font-size="7.5">Coculture</text></g>
<text transform="translate(292,490) rotate(-90)" font-size="6.8" text-anchor="middle">MR/MG<tspan font-size="4.8" dy="-3">low</tspan><tspan dy="3"> % in CD8</tspan><tspan font-size="4.8" dy="-3">+</tspan><tspan dy="3"> T cells</tspan></text>
<path class="bar" stroke="#2a2af5" d="M321 543V525.7H330V543M387 543V502.5H395V543"/>
<path class="bar" stroke="#ff4a4a" d="M335 543V531.1H343V543M400 543V522H408V543"/>
<path class="bar" stroke="#22bb22" d="M348 543V513.8H358V543M414 543V480.9H423V543"/>
<path class="bar" stroke="#b43ce6" d="M363 543V522H372V543M428 543V497.6H437V543"/>
<path class="err" stroke="#2a2af5" d="M325.5 520V531M323.5 520H327.5M391 497V508M389 497H393"/>
<path class="err" stroke="#ff4a4a" d="M339 528V534M404 518V526M402 518H406"/>
<path class="err" stroke="#22bb22" d="M353 502V525M351 502H355M418.5 474V488M416.5 474H420.5"/>
<path class="err" stroke="#b43ce6" d="M367.5 513V531M365.5 513H369.5M432.5 495V500"/>
<path class="dot" stroke="#2a2af5" d="M323 520h0M328 521h0M325 533h0M391 493h0M389 505h0M393 505h0"/>
<path class="sq" stroke="#ff4a4a" d="M338 527h0M340 531h0M339 534h0M404 516h0M403 521h0M405 526h0"/>
<path class="dot" stroke="#22bb22" d="M353 500h0M352 513h0M354 530h0M418 470h0M417 478h0M420 485h0"/>
<path class="dot" stroke="#b43ce6" d="M367 511h0M366 525h0M368 532h0M432 494h0M431 498h0M433 499h0"/>
<rect x="322" y="434.5" width="10" height="5" fill="none" stroke="#2a2af5" stroke-width="1.1"/><rect x="322" y="444.5" width="10" height="5" fill="none" stroke="#ff4a4a" stroke-width="1.1"/><rect x="322" y="453.5" width="10" height="5" fill="none" stroke="#22bb22" stroke-width="1.1"/><rect x="322" y="463.5" width="10" height="5" fill="none" stroke="#b43ce6" stroke-width="1.1"/>
<g font-size="7.2"><text x="337" y="439.5">DMSO</text><text x="337" y="449.5">DPCA</text><text x="337" y="458.5">dSUC</text><text x="337" y="468.5">DPCA+dSUC</text></g>
<path class="br" d="M365 434V450M387 444V468"/>
<text transform="translate(367,442) rotate(90)" font-size="6" text-anchor="middle">0.021</text>
<text transform="translate(389,456) rotate(90)" font-size="6" text-anchor="middle">0.020</text>

<!-- bottom right -->
<text x="700" y="403" font-size="7.5" text-anchor="middle">Healthy mitochondria</text>
<path class="ax" d="M635 417V527H777M632 435H635M632 453H635M632 472H635M632 490H635M632 508H635M632 527H635M662 527v3M732 527v3"/>
<g font-size="7" text-anchor="end"><text x="630" y="437.5">100</text><text x="630" y="455.5">80</text><text x="630" y="474.5">60</text><text x="630" y="492.5">40</text><text x="630" y="510.5">20</text><text x="630" y="529.5">0</text></g>
<g font-size="7" text-anchor="middle"><text x="662" y="540">x1</text><text x="732" y="540">x3</text><text x="700" y="552" font-size="7.5">Coculture</text></g>
<text transform="translate(610,470) rotate(-90)" font-size="6.8" text-anchor="middle">MR/MG<tspan font-size="4.8" dy="-3">high</tspan><tspan dy="3"> % in CD8</tspan><tspan font-size="4.8" dy="-3">+</tspan><tspan dy="3"> T cells</tspan></text>
<path class="bar" stroke="#2a2af5" d="M640 527V452.5H649V527M710 527V473.6H719V527"/>
<path class="bar" stroke="#ff4a4a" d="M654 527V449.7H664V527M725 527V461.7H734V527"/>
<path class="bar" stroke="#22bb22" d="M669 527V449.3H678V527M739 527V460.3H749V527"/>
<path class="bar" stroke="#b43ce6" d="M684 527V448.3H693V527M754 527V461.7H763V527"/>
<path class="err" stroke="#2a2af5" d="M644.5 446V459M642.5 446H646.5M714.5 469V479M712.5 469H716.5"/>
<path class="err" stroke="#ff4a4a" d="M659 446V453M729.5 455V468M727.5 455H731.5"/>
<path class="err" stroke="#22bb22" d="M673.5 445V453M744 456V465"/>
<path class="err" stroke="#b43ce6" d="M688.5 444V452M758.5 457V466"/>
<path class="dot" stroke="#2a2af5" d="M643 446h0M646 447h0M644 460h0M714 468h0M716 471h0M713 480h0"/>
<path class="sq" stroke="#ff4a4a" d="M657 445h0M661 448h0M659 452h0M728 451h0M730 462h0M731 466h0"/>
<path class="dot" stroke="#22bb22" d="M672 445h0M675 447h0M673 453h0M742 455h0M745 460h0M744 466h0"/>
<path class="dot" stroke="#b43ce6" d="M687 443h0M690 448h0M757 456h0M760 461h0M758 465h0"/>
<rect x="713" y="413.5" width="9" height="5" fill="none" stroke="#2a2af5" stroke-width="1.1"/><rect x="713" y="422.5" width="9" height="5" fill="none" stroke="#ff4a4a" stroke-width="1.1"/><rect x="713" y="431.5" width="9" height="5" fill="none" stroke="#22bb22" stroke-width="1.1"/><rect x="713" y="440.5" width="9" height="5" fill="none" stroke="#b43ce6" stroke-width="1.1"/>
<g font-size="7.2"><text x="727" y="418.5">DMSO</text><text x="727" y="427.5">DPCA</text><text x="727" y="436.5">dαKG</text><text x="727" y="445.5">DPCA+dαKG</text></g>
<path class="br" d="M757 411V428M775 411V434"/>
<text transform="translate(759,419) rotate(90)" font-size="6" text-anchor="middle">0.09</text>
<text transform="translate(777,422) rotate(90)" font-size="6" text-anchor="middle">0.061</text>

<text x="902" y="403" font-size="7.5" text-anchor="middle">Dysfunctional mitochondria</text>
<path class="ax" d="M835 417V526H968M832 417H835M832 453H835M832 489H835M832 526H835M869 526v3M935 526v3"/>
<g font-size="7" text-anchor="end"><text x="830" y="419.5">60</text><text x="830" y="455.5">40</text><text x="830" y="491.5">20</text><text x="830" y="528.5">0</text></g>
<g font-size="7" text-anchor="middle"><text x="869" y="540">x1</text><text x="935" y="540">x3</text><text x="902" y="551" font-size="7.5">Coculture</text></g>
<text transform="translate(819,470) rotate(-90)" font-size="6.8" text-anchor="middle">MR/MG<tspan font-size="4.8" dy="-3">low</tspan><tspan dy="3"> % in CD8</tspan><tspan font-size="4.8" dy="-3">+</tspan><tspan dy="3"> T cells</tspan></text>
<path class="bar" stroke="#2a2af5" d="M843 526V502.4H853V526M910 526V456H919V526"/>
<path class="bar" stroke="#ff4a4a" d="M858 526V506H867V526M924 526V483.3H934V526"/>
<path class="bar" stroke="#22bb22" d="M872 526V505.1H882V526M938 526V484.2H948V526"/>
<path class="bar" stroke="#b43ce6" d="M886 526V508.7H896V526M953 526V484.2H962V526"/>
<path class="err" stroke="#2a2af5" d="M848 496V509M846 496H850M914.5 448V464M912.5 448H916.5"/>
<path class="err" stroke="#ff4a4a" d="M862.5 503V509M929 476V490M927 476H931"/>
<path class="err" stroke="#22bb22" d="M877 500V510M875 500H879M943 477V491M941 477H945"/>
<path class="err" stroke="#b43ce6" d="M891 506V511M957.5 475V493M955.5 475H959.5"/>
<path class="dot" stroke="#2a2af5" d="M847 491h0M845 508h0M850 505h0M914 443h0M913 458h0M915 468h0"/>
<path class="sq" stroke="#ff4a4a" d="M860 503h0M864 506h0M862 509h0M929 472h0M928 482h0M930 495h0"/>
<path class="dot" stroke="#22bb22" d="M877 497h0M876 507h0M878 510h0M943 470h0M942 487h0M944 491h0"/>
<path class="dot" stroke="#b43ce6" d="M889 507h0M893 508h0M891 511h0M957 472h0M956 486h0M958 494h0"/>
<rect x="842" y="415.5" width="9" height="5" fill="none" stroke="#2a2af5" stroke-width="1.1"/><rect x="842" y="426.5" width="9" height="5" fill="none" stroke="#ff4a4a" stroke-width="1.1"/><rect x="842" y="437.5" width="9" height="5" fill="none" stroke="#22bb22" stroke-width="1.1"/><rect x="842" y="448.5" width="9" height="5" fill="none" stroke="#b43ce6" stroke-width="1.1"/>
<g font-size="7.2"><text x="855" y="420.5">DMSO</text><text x="855" y="431.5">DPCA</text><text x="855" y="442.5">dαKG</text><text x="855" y="453.5">DPCA+dαKG</text></g>
<path class="br" d="M884 414V432M901 414V438"/>
<text transform="translate(886,423) rotate(90)" font-size="6" text-anchor="middle">0.075</text>
<text transform="translate(903,426) rotate(90)" font-size="6" text-anchor="middle">0.085</text>

<!-- footer -->
<text x="10" y="597" font-size="14" style="fill:#a21fd6">ylzx.net</text>
</svg>
</body></html>
